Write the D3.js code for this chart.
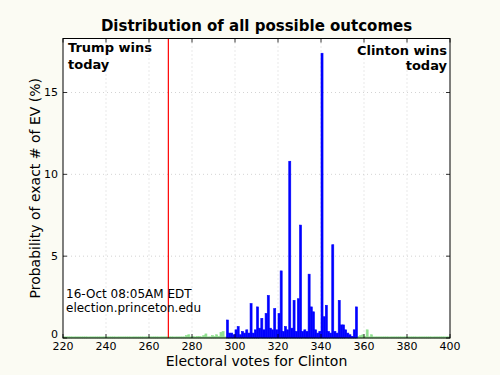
<!DOCTYPE html>
<html><head><meta charset="utf-8">
<script src="https://cdn.jsdelivr.net/npm/d3@7"></script>
<style>body{margin:0;background:#fbfbf3;}svg{display:block;font-family:"DejaVu Sans",sans-serif;}</style>
</head><body><svg id="c" width="500" height="375"></svg>
<script>
// Data
const blueStart = 296;
const blueValues = [1.1,0.3,0.3,0.2,0.5,0.7,0.2,0.4,0.3,0.5, // 296-305
  0.3,2.1,0.3,0.5,1.9,0.6,1.2,0.5,1.5,2.6, // 306-315
  0.6,0.5,1.8,0.5,1.5,4.1,0.4,0.7,0.5,10.8, // 316-325
  0.6,2.3,0.4,2.4,6.9,0.4,0.5,0.4,3.9,1.9, // 326-335
  1.6,0.5,0.3,0.4,17.4,1.3,2.0,0.4,0.3,5.7, // 336-345
  0.4,0.3,2.3,0.8,0.8,0.5,0.3,0.2,0.1,0.5, // 346-355
  1.9]; // 356
const greenLow = [[277,0.15],[278,0.2],[279,0.05],[280,0.1],[281,0.05],[282,0.1],[283,0.1],[284,0.05],[285,0.15],[286,0.25],[287,0.05],[288,0.05],[289,0.15],[290,0.1],[291,0.2],[292,0.1],[293,0.35],[294,0.4],[295,0.05]];
const greenHigh = [[357,0.1],[358,0.15],[359,0.2],[360,0.1],[361,0.5],[362,0.05],[363,0.2],[364,0.05]];
const greenFloor = 0.07;
const xTicks = [220,240,260,280,300,320,340,360,380,400];
const yTicks = [0,5,10,15];
const threshold = 269;

const svg = d3.select("#c");
const m = {l:63, r:450, t:38.5, b:338};
const x = d3.scaleLinear().domain([220,400]).range([m.l, m.r]);
const y = d3.scaleLinear().domain([0,18.3]).range([m.b, m.t]);

svg.append("rect").attr("x",m.l).attr("y",m.t).attr("width",m.r-m.l).attr("height",m.b-m.t).attr("fill","#fff");

// grid
const g = svg.append("g");
g.selectAll(".gx").data(xTicks.slice(1,-1)).join("line")
  .attr("x1",d=>x(d)).attr("x2",d=>x(d)).attr("y1",m.t).attr("y2",m.b)
  .attr("stroke","#c8c8c8").attr("stroke-dasharray","1,3").attr("stroke-width",0.8);
g.selectAll(".gy").data(yTicks.slice(1)).join("line")
  .attr("x1",m.l).attr("x2",m.r).attr("y1",d=>y(d)).attr("y2",d=>y(d))
  .attr("stroke","#c8c8c8").attr("stroke-dasharray","1,3").attr("stroke-width",0.8);

// green data
const greenMap = new Map();
for (let e=220;e<400;e++) greenMap.set(e, greenFloor);
greenLow.concat(greenHigh).forEach(([e,v])=>greenMap.set(e, Math.max(v, greenFloor)));
const green = Array.from(greenMap, ([e,v])=>({e,v}));
const blue = blueValues.map((v,i)=>({e:blueStart+i, v}));
const bw = x(221)-x(220);

svg.append("g").selectAll("rect").data(green).join("rect")
  .attr("x",d=>x(d.e)).attr("width",bw*0.95)
  .attr("y",d=>y(d.v)).attr("height",d=>y(0)-y(d.v)).attr("fill","#90e090")
  .attr("stroke","#90e090").attr("stroke-width",0.6);
svg.append("g").selectAll("rect").data(blue).join("rect")
  .attr("x",d=>x(d.e)).attr("width",bw*0.95)
  .attr("y",d=>y(d.v)).attr("height",d=>y(0)-y(d.v)).attr("fill","#0000ff")
  .attr("stroke","#0000ff").attr("stroke-width",0.6);

// threshold line
svg.append("line").attr("x1",x(threshold)).attr("x2",x(threshold)).attr("y1",m.t).attr("y2",m.b)
  .attr("stroke","#ff0000").attr("stroke-width",1.2);

// frame
svg.append("rect").attr("x",m.l).attr("y",m.t).attr("width",m.r-m.l).attr("height",m.b-m.t)
  .attr("fill","none").attr("stroke","#000").attr("stroke-width",1);

// ticks (inward, both sides)
const tk = svg.append("g").attr("stroke","#000").attr("stroke-width",0.8);
xTicks.forEach(t=>{
  tk.append("line").attr("x1",x(t)).attr("x2",x(t)).attr("y1",m.b).attr("y2",m.b-4);
  tk.append("line").attr("x1",x(t)).attr("x2",x(t)).attr("y1",m.t).attr("y2",m.t+4);
});
yTicks.forEach(t=>{
  tk.append("line").attr("x1",m.l).attr("x2",m.l+4).attr("y1",y(t)).attr("y2",y(t));
  tk.append("line").attr("x1",m.r).attr("x2",m.r-4).attr("y1",y(t)).attr("y2",y(t));
});

// tick labels
svg.append("g").selectAll("text").data(xTicks).join("text")
  .attr("x",d=>x(d)).attr("y",m.b+12).attr("text-anchor","middle")
  .attr("font-size",11).text(d=>d);
svg.append("g").selectAll("text").data(yTicks).join("text")
  .attr("x",m.l-5).attr("y",d=>y(d)+(d===0?-0.5:3.5)).attr("text-anchor","end")
  .attr("font-size",11).text(d=>d);

// titles
svg.append("text").attr("x",(m.l+m.r)/2).attr("y",30.5).attr("text-anchor","middle")
  .attr("font-size",15).attr("font-weight","bold").text("Distribution of all possible outcomes");
svg.append("text").attr("x",(m.l+m.r)/2).attr("y",366).attr("text-anchor","middle")
  .attr("font-size",14).text("Electoral votes for Clinton");
svg.append("text").attr("transform",`translate(40,${(m.t+m.b)/2}) rotate(-90)`).attr("text-anchor","middle")
  .attr("font-size",14).text("Probability of exact # of EV (%)");

// annotations
const ann = svg.append("g").attr("font-size",13).attr("font-weight","bold");
ann.append("text").attr("x",68).attr("y",51.5).text("Trump wins");
ann.append("text").attr("x",68).attr("y",68.5).text("today");
ann.append("text").attr("x",447).attr("y",54.5).attr("text-anchor","end").text("Clinton wins");
ann.append("text").attr("x",447).attr("y",69.5).attr("text-anchor","end").text("today");

svg.append("text").attr("x",66).attr("y",298).attr("font-size",12).text("16-Oct 08:05AM EDT");
svg.append("text").attr("x",66).attr("y",312).attr("font-size",12).text("election.princeton.edu");
</script></body></html>
